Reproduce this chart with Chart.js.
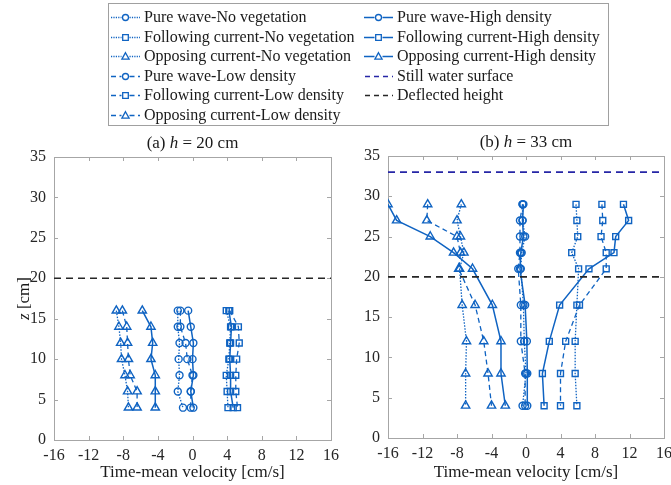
<!DOCTYPE html>
<html>
<head>
<meta charset="utf-8">
<script src="https://cdn.jsdelivr.net/npm/chart.js@4.4.0/dist/chart.umd.min.js"></script>
<style>
    html, body { margin: 0; padding: 0; background: #fff; }
    #wrap { position: relative; width: 671px; height: 485px; overflow: hidden; }
    #legend { position: absolute; left: 0; top: 0; }
    .panel { position: absolute; top: 130px; height: 355px; }
    #panelA { left: 0; width: 345px; }
    #panelB { left: 345px; width: 326px; }
</style>
</head>
<body>
<div id="wrap">
    <canvas id="legend" width="671" height="130"></canvas>
    <div class="panel" id="panelA"><canvas id="chartA"></canvas></div>
    <div class="panel" id="panelB"><canvas id="chartB"></canvas></div>
</div>
<script>
// Axis ticks
const velocityTicks = [-16, -12, -8, -4, 0, 4, 8, 12, 16];
const heightTicks = [0, 5, 10, 15, 20, 25, 30, 35];

// (a) h = 20 cm  -- measurement heights and velocities
const zA = [16, 14, 12, 10, 8, 6, 4];
const pureNoVegA = [-1.7, -1.7, -1.5, -1.6, -1.5, -1.7, -1.1];
const pureLowA = [-1.4, -1.4, -0.8, -0.6, 0.0, -0.2, -0.2];
const pureHighA = [-0.5, -0.2, 0.1, 0.0, 0.1, -0.2, 0.1];
const followNoVegA = [3.9, 4.4, 4.3, 4.2, 3.9, 4.0, 4.1];
const followLowA = [4.3, 5.3, 5.4, 5.1, 5.0, 5.0, 5.2];
const followHighA = [4.2, 4.5, 4.4, 4.3, 4.4, 4.4, 4.7];
const opposeNoVegA = [-8.8, -8.5, -8.3, -8.2, -7.8, -7.5, -7.4];
const opposeLowA = [-8.1, -7.6, -7.5, -7.4, -7.2, -6.4, -6.4];
const opposeHighA = [-5.8, -4.8, -4.6, -4.8, -4.3, -4.3, -4.3];
const deflectedA = 20;

// (b) h = 33 cm
const zB = [29, 27, 25, 23, 21, 16.5, 12, 8, 4];
const pureNoVegB = [-0.4, -0.4, -0.1, -0.5, -0.6, -0.3, -0.2, 0.0, -0.4];
const pureLowB = [-0.4, -0.7, -0.7, -0.7, -0.9, -0.6, -0.6, -0.1, -0.1];
const pureHighB = [-0.3, -0.4, -0.3, -0.6, -0.7, -0.1, 0.1, 0.15, 0.15];
const followNoVegB = [5.8, 5.9, 6.0, 5.3, 6.1, 5.9, 5.7, 5.7, 5.9];
const followLowB = [8.8, 8.9, 8.7, 9.3, 9.3, 6.2, 4.6, 4.0, 4.0];
const followHighB = [11.3, 11.9, 10.4, 10.2, 7.3, 3.9, 2.7, 1.9, 2.1];
const opposeNoVegB = [-7.5, -8.0, -7.6, -7.2, -7.7, -7.4, -6.9, -7.0, -7.0];
const opposeLowB = [-11.4, -11.5, -8.0, -7.6, -7.8, -5.9, -4.9, -4.4, -4.0];
const opposeHighB = [-16.0, -15.0, -11.1, -8.4, -6.2, -3.9, -2.9, -2.9, -2.4];
const stillWaterB = 33;
const deflectedB = 20;

// Series naming / styling
const caseNames = ['Pure wave', 'Following current', 'Opposing current'];
const densityNames = ['No vegetation', 'Low density', 'High density'];
const markerShapes = ['circle', 'rect', 'triangle'];
const markerRadius = { circle: 3.5, rect: 4.2, triangle: 4.8 };
const densityDash = [[1.5, 1.5], [5, 3.5], []];
const blue = '#0f63c2';
const navy = '#2626a6';
const dark = '#262626';
const serif = "'Liberation Serif', 'Times New Roman', serif";

function profileDatasets(z, groups) {
    const sets = [];
    groups.forEach((group, c) => {
        group.forEach((vals, d) => {
            sets.push({
                label: caseNames[c] + '-' + densityNames[d],
                data: vals.map((v, i) => ({ x: v, y: z[i] })),
                showLine: true,
                borderColor: blue,
                borderWidth: d === 2 ? 1.5 : 1.3,
                borderDash: densityDash[d],
                pointStyle: markerShapes[c],
                pointRadius: markerRadius[markerShapes[c]],
                pointBorderColor: blue,
                pointBackgroundColor: 'rgba(255,255,255,0)',
                pointBorderWidth: 1.4
            });
        });
    });
    return sets;
}

function levelLine(label, level, color) {
    const xs = [velocityTicks[0], velocityTicks[velocityTicks.length - 1]];
    return {
        label: label,
        data: xs.map(x => ({ x: x, y: level })),
        showLine: true,
        borderColor: color,
        borderWidth: 1.6,
        borderDash: [7, 5],
        pointRadius: 0
    };
}

// box + inward ticks like the original figure
const framePlugin = {
    id: 'frame',
    beforeDatasetsDraw(chart) {
        const { ctx, chartArea: a, scales: { x, y } } = chart;
        ctx.save();
        ctx.strokeStyle = '#a6a6a6';
        ctx.lineWidth = 1;
        ctx.strokeRect(Math.round(a.left) + 0.5, Math.round(a.top) + 0.5,
            Math.round(a.width), Math.round(a.height));
        ctx.beginPath();
        velocityTicks.forEach(t => {
            const px = Math.round(x.getPixelForValue(t)) + 0.5;
            ctx.moveTo(px, a.bottom); ctx.lineTo(px, a.bottom - 4);
            ctx.moveTo(px, a.top); ctx.lineTo(px, a.top + 4);
        });
        heightTicks.forEach(t => {
            const py = Math.round(y.getPixelForValue(t)) + 0.5;
            ctx.moveTo(a.left, py); ctx.lineTo(a.left + 4, py);
            ctx.moveTo(a.right, py); ctx.lineTo(a.right - 4, py);
        });
        ctx.stroke();
        ctx.restore();
    }
};

// text made of plain / italic pieces
function drawMixed(ctx, parts, cx, cy, size) {
    const fonts = parts.map(p => (p[1] ? 'italic ' : '') + size + 'px ' + serif);
    let total = 0;
    const widths = parts.map((p, i) => { ctx.font = fonts[i]; const w = ctx.measureText(p[0]).width; total += w; return w; });
    let xPos = cx - total / 2;
    parts.forEach((p, i) => {
        ctx.font = fonts[i];
        ctx.fillText(p[0], xPos, cy);
        xPos += widths[i];
    });
}

const labelsPlugin = {
    id: 'panelLabels',
    afterDraw(chart) {
        const opts = chart.options.plugins.panelLabels;
        const { ctx, chartArea: a } = chart;
        ctx.save();
        ctx.fillStyle = '#1a1a1a';
        ctx.textAlign = 'left';
        ctx.textBaseline = 'middle';
        drawMixed(ctx, opts.title, (a.left + a.right) / 2, a.top - 13, 17);
        if (opts.yTitle) {
            ctx.translate(25, (a.top + a.bottom) / 2);
            ctx.rotate(-Math.PI / 2);
            drawMixed(ctx, opts.yTitle, 0, 0, 17);
        }
        ctx.restore();
    }
};

function panelOptions(yWidth, padding, xHeight, labels) {
    return {
        responsive: true,
        maintainAspectRatio: false,
        animation: false,
        events: [],
        layout: { padding: padding },
        plugins: {
            legend: { display: false },
            tooltip: { enabled: false },
            panelLabels: labels
        },
        scales: {
            x: {
                type: 'linear',
                min: velocityTicks[0],
                max: velocityTicks[velocityTicks.length - 1],
                afterBuildTicks: s => { s.ticks = velocityTicks.map(v => ({ value: v })); },
                afterFit: s => { s.height = xHeight; s.paddingLeft = 0; s.paddingRight = 0; },
                grid: { display: false, drawTicks: false },
                border: { display: false },
                ticks: { color: dark, padding: 6, maxRotation: 0, font: { family: serif, size: 16 } },
                title: {
                    display: true,
                    text: 'Time-mean velocity [cm/s]',
                    color: '#1a1a1a',
                    font: { family: serif, size: 17 },
                    padding: { top: 0, bottom: 2 }
                }
            },
            y: {
                type: 'linear',
                min: heightTicks[0],
                max: heightTicks[heightTicks.length - 1],
                afterBuildTicks: s => { s.ticks = heightTicks.map(v => ({ value: v })); },
                afterFit: s => { s.width = yWidth; s.paddingTop = 0; s.paddingBottom = 0; },
                grid: { display: false, drawTicks: false },
                border: { display: false },
                ticks: { color: dark, padding: 8, font: { family: serif, size: 16 } }
            }
        }
    };
}

const chartA = new Chart(document.getElementById('chartA'), {
    type: 'scatter',
    data: {
        datasets: [
            levelLine('Deflected height', deflectedA, dark),
            ...profileDatasets(zA, [
                [pureNoVegA, pureLowA, pureHighA],
                [followNoVegA, followLowA, followHighA],
                [opposeNoVegA, opposeLowA, opposeHighA]
            ])
        ]
    },
    options: panelOptions(54, { left: 0, right: 14, top: 27, bottom: 0 }, 45, {
        title: [['(a) ', false], ['h', true], [' = 20 cm', false]],
        yTitle: [['z', true], [' [cm]', false]]
    }),
    plugins: [framePlugin, labelsPlugin]
});

const chartB = new Chart(document.getElementById('chartB'), {
    type: 'scatter',
    data: {
        datasets: [
            levelLine('Still water surface', stillWaterB, navy),
            levelLine('Deflected height', deflectedB, dark),
            ...profileDatasets(zB, [
                [pureNoVegB, pureLowB, pureHighB],
                [followNoVegB, followLowB, followHighB],
                [opposeNoVegB, opposeLowB, opposeHighB]
            ])
        ]
    },
    options: panelOptions(43, { left: 0, right: 7, top: 26, bottom: 0 }, 47, {
        title: [['(b) ', false], ['h', true], [' = 33 cm', false]]
    }),
    plugins: [framePlugin, labelsPlugin]
});

// Shared legend above both panels
function drawLegend() {
    const cv = document.getElementById('legend');
    const ctx = cv.getContext('2d');
    const entries = [];
    densityNames.slice(0, 2).forEach((dn, d) => {
        caseNames.forEach((cn, c) => entries.push({ label: cn + '-' + dn, dash: densityDash[d], shape: markerShapes[c], color: blue, col: 0 }));
    });
    caseNames.forEach((cn, c) => entries.push({ label: cn + '-' + densityNames[2], dash: [], shape: markerShapes[c], color: blue, col: 1 }));
    entries.push({ label: 'Still water surface', dash: [5, 4], shape: null, color: navy, col: 1 });
    entries.push({ label: 'Deflected height', dash: [5, 4], shape: null, color: dark, col: 1 });

    ctx.strokeStyle = '#a0a0a0';
    ctx.lineWidth = 1;
    ctx.strokeRect(108.5, 3.5, 500, 122);

    const colX = [111, 364];
    const rowCount = [0, 0];
    entries.forEach(e => {
        const row = rowCount[e.col]++;
        const y = Math.round(17 + row * 19.6) + 0.5;
        const x0 = colX[e.col], x1 = x0 + 29, mx = x0 + 14.5;
        ctx.save();
        ctx.strokeStyle = e.color;
        ctx.lineWidth = 1.4;
        ctx.setLineDash(e.shape && e.dash.length === 2 && e.dash[0] < 2 ? [1.2, 1.2] : e.dash);
        ctx.beginPath();
        if (e.shape) {
            ctx.moveTo(x0, y); ctx.lineTo(mx - 4, y);
            ctx.moveTo(mx + 4, y); ctx.lineTo(x1, y);
        } else {
            ctx.moveTo(x0 + 1, y); ctx.lineTo(x1, y);
        }
        ctx.stroke();
        ctx.setLineDash([]);
        ctx.lineWidth = 1.3;
        ctx.beginPath();
        if (e.shape === 'circle') {
            ctx.arc(mx, y, 3, 0, Math.PI * 2);
        } else if (e.shape === 'rect') {
            ctx.rect(mx - 2.8, y - 2.8, 5.6, 5.6);
        } else if (e.shape === 'triangle') {
            ctx.moveTo(mx, y - 3.8); ctx.lineTo(mx + 3.6, y + 2.6); ctx.lineTo(mx - 3.6, y + 2.6); ctx.closePath();
        }
        if (e.shape) ctx.stroke();
        ctx.restore();
        ctx.fillStyle = '#1a1a1a';
        ctx.font = '16px ' + serif;
        ctx.textBaseline = 'middle';
        ctx.fillText(e.label, x1 + 4, y);
    });
}
drawLegend();
</script>
</body>
</html>
